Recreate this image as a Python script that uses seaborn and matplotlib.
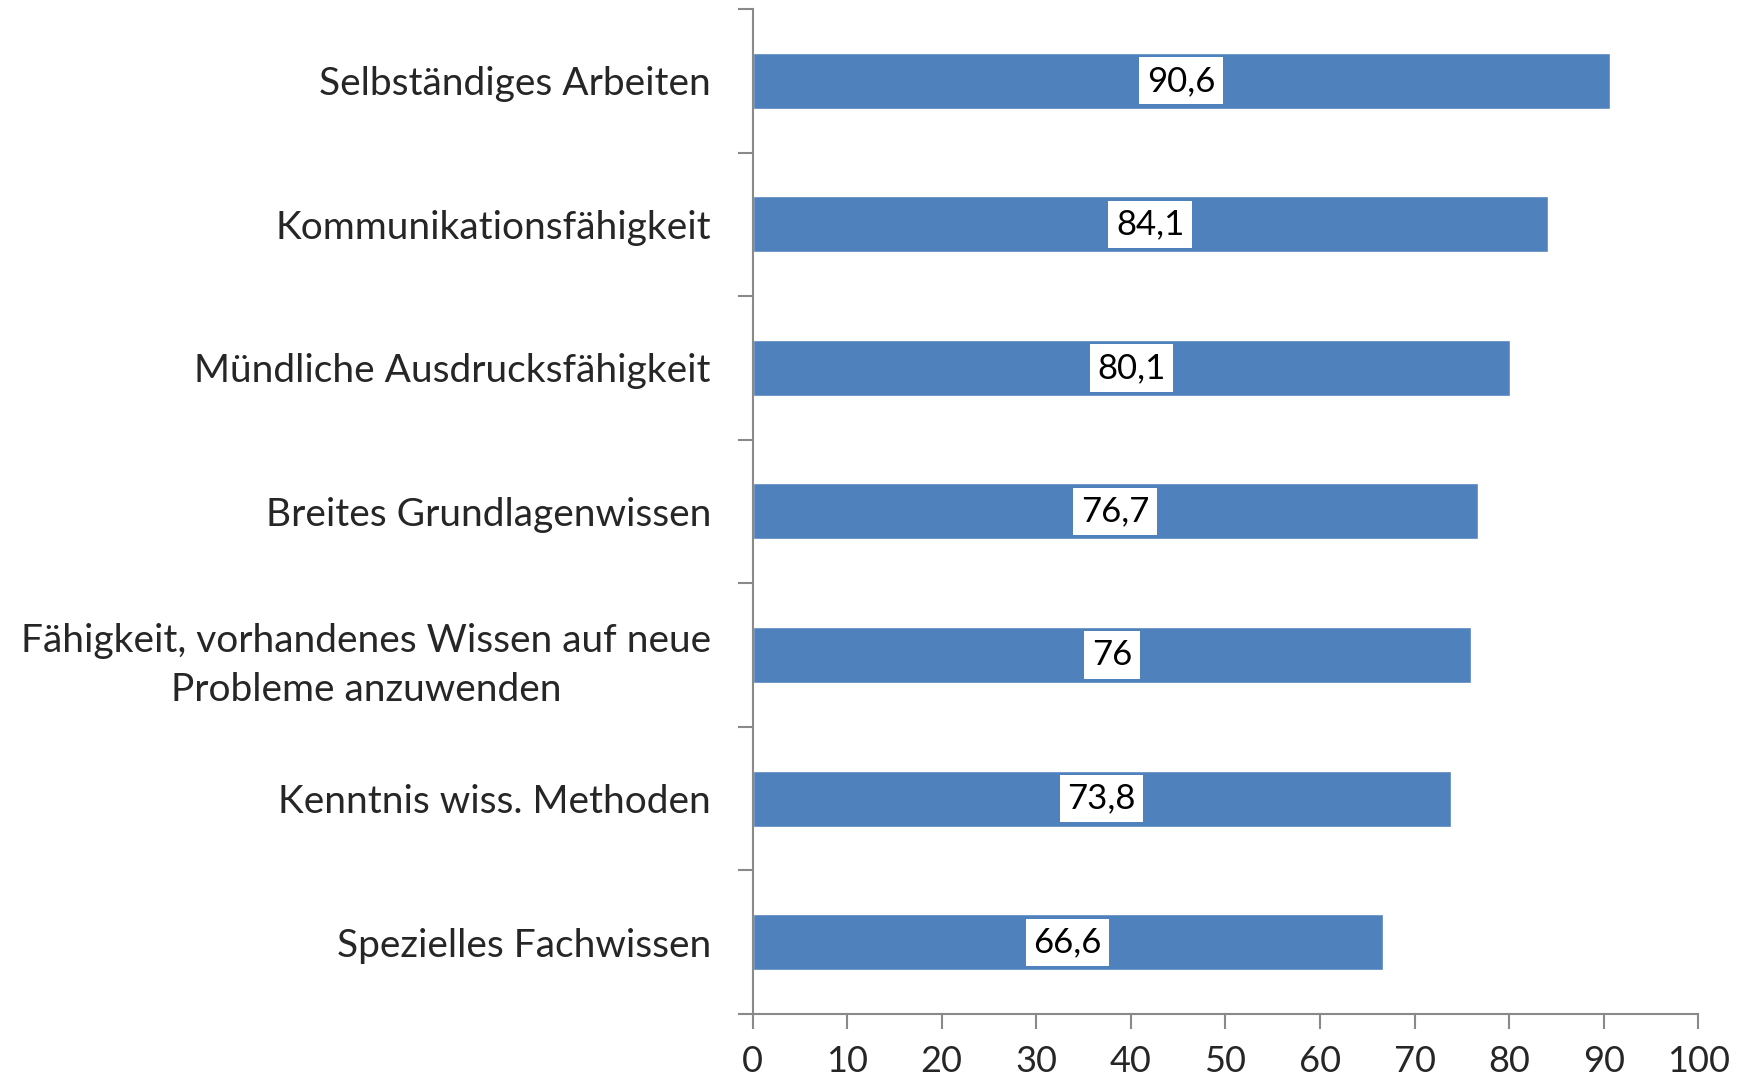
import matplotlib
matplotlib.use('Agg')
import matplotlib.pyplot as plt
import seaborn as sns
import pandas as pd

# Daten
kategorien = [
    'Selbständiges Arbeiten',
    'Kommunikationsfähigkeit',
    'Mündliche Ausdrucksfähigkeit',
    'Breites Grundlagenwissen',
    'Fähigkeit, vorhandenes Wissen auf neue\nProbleme anzuwenden',
    'Kenntnis wiss. Methoden',
    'Spezielles Fachwissen',
]
werte = [90.6, 84.1, 80.1, 76.7, 76.0, 73.8, 66.6]
x_ticks = list(range(0, 101, 10))

df = pd.DataFrame({'Kategorie': kategorien, 'Wert': werte})

sns.set_theme(style='white')
plt.rcParams['font.family'] = ['Lato', 'DejaVu Sans']

fig = plt.figure(figsize=(17.42, 10.8), dpi=100)
ax = fig.add_axes([0.432, 0.0611, 0.543, 0.9306])

sns.barplot(data=df, x='Wert', y='Kategorie', orient='h', color='#4f81bd',
            saturation=1, width=0.39, ax=ax)

def fmt(v):
    s = f'{v:.1f}'.replace('.', ',')
    return s[:-2] if s.endswith(',0') else s

ax.bar_label(ax.containers[0], labels=[fmt(v) for v in werte], label_type='center',
             fontsize=25, color='black',
             bbox=dict(facecolor='white', edgecolor='none', pad=5.5))

ax.set_xlim(0, 100)
ax.set_ylim(len(kategorien) - 0.5, -0.5)
ax.set_xticks(x_ticks)
ax.set_xlabel('')
ax.set_ylabel('')

# Achsen
for s in ['top', 'right']:
    ax.spines[s].set_visible(False)
for s in ['left', 'bottom']:
    ax.spines[s].set_color('#898989')
    ax.spines[s].set_linewidth(1.5)

ax.tick_params(axis='x', direction='out', length=11, width=1.5, color='#898989',
               labelsize=26, pad=11, bottom=True)
ax.tick_params(axis='y', which='major', length=0, labelsize=28, pad=30)
ax.set_yticks([i + 0.5 for i in range(-1, len(kategorien))], minor=True)
ax.tick_params(axis='y', which='minor', direction='out', length=11, width=1.5,
               color='#898989', left=True)
for lbl in ax.get_yticklabels():
    lbl.set_horizontalalignment('right')
    lbl.set_multialignment('center')
    lbl.set_linespacing(1.45)

fig.savefig('out.png', dpi=100, facecolor='white')
